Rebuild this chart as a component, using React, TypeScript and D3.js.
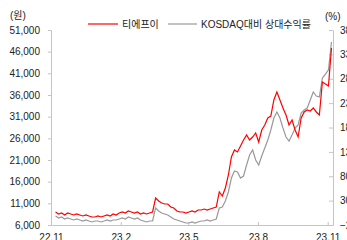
import React, { useEffect, useRef } from 'react';
import * as d3 from 'd3';

// daily series sampled every 4 days from 2022-11-07
const startDate = new Date(2022, 10, 7);
const stepDays = 4;

// 티에프이 종가 (원)
const priceValues = [
  9000, 8540, 8770, 8310, 8770, 8540, 8310, 8540, 8310, 8080,
  8310, 8080, 7850, 7850, 8080, 7850, 8080, 8310, 8080, 8540,
  8310, 8770, 9000, 8770, 9230, 9000, 8770, 9000, 8540, 8770,
  8540, 8770, 9000, 12230, 11540, 11080, 10850, 10850, 10150, 9920,
  9230, 9000, 9000, 8770, 9000, 9230, 9000, 9460, 9460, 9690,
  9460, 9690, 9920, 10150, 13620, 12690, 14540, 17540, 21690, 23310,
  22850, 24230, 25620, 26770, 25620, 26310, 27230, 25150, 27920, 29080,
  30690, 31150, 34850, 36690, 34850, 33000, 31380, 29080, 30230, 27920,
  26310, 30690, 32080, 32540, 32310, 33000, 32080, 31380, 39000, 38540,
  38080, 46850
];

// KOSDAQ 대비 상대수익률 (%)
const relativeValues = [
  -1.5, -5.6, -3.6, -7.7, -5.6, -7.7, -9.7, -7.7, -9.7, -11.8,
  -9.7, -11.8, -13.8, -11.8, -11.8, -13.8, -11.8, -9.7, -11.8, -9.7,
  -9.7, -7.7, -5.6, -7.7, -3.6, -5.6, -7.7, -5.6, -9.7, -11.8,
  -13.8, -11.8, -11.8, 14.9, 8.7, 4.6, 2.6, 0.5, -3.6, -7.7,
  -9.7, -11.8, -13.8, -15.9, -15.9, -13.8, -15.9, -13.8, -11.8, -11.8,
  -9.7, -11.8, -9.7, -7.7, 14.9, 16.9, 29.2, 47.7, 76.4, 90.8,
  88.7, 76.4, 80.5, 103.1, 123.6, 133.8, 113.3, 103.1, 121.5, 138,
  154.4, 174.9, 199.5, 211.8, 199.5, 179, 160.5, 152.3, 164.6, 179,
  185.1, 209.7, 215.9, 220, 236.4, 252.8, 244.6, 242.6, 281.5, 289.7,
  298, 355.4
];

const leftTicks = [6000, 11000, 16000, 21000, 26000, 31000, 36000, 41000, 46000, 51000];
const rightTicks = [-20, 30, 80, 130, 180, 230, 280, 330, 380];
const monthTicks = [
  new Date(2022, 10, 1),
  new Date(2023, 1, 1),
  new Date(2023, 4, 1),
  new Date(2023, 7, 1),
  new Date(2023, 10, 1)
];
const legendLabels = ['티에프이', 'KOSDAQ대비 상대수익률'];
const unitLabels = ['(원)', '(%)'];

const numFont = "'Liberation Sans Narrow', 'Arial Narrow', 'Liberation Sans', Arial, sans-serif";
const krFont = "'Liberation Sans', 'Noto Sans CJK KR', sans-serif";

export default function App() {
  const ref = useRef<SVGSVGElement>(null);

  useEffect(() => {
    const w = 347, h = 240;
    const left = 51, right = 333, top = 30, bottom = 225;
    const svg = d3.select(ref.current);
    svg.selectAll('*').remove();

    const x = d3.scaleTime()
      .domain([new Date(2022, 10, 1), new Date(2023, 10, 8)])
      .range([left, right]);
    const yLeft = d3.scaleLinear().domain([6000, 51000]).range([bottom, top]);
    const yRight = d3.scaleLinear().domain([-20, 380]).range([bottom, top]);

    const dates = priceValues.map((_, i) => d3.timeDay.offset(startDate, i * stepDays));

    const styleAxis = (g: any) => {
      g.select('.domain').attr('stroke', '#c4c4c4');
      g.selectAll('.tick line').attr('stroke', '#c4c4c4');
      g.selectAll('.tick text')
        .attr('fill', '#222')
        .style('font-family', numFont)
        .style('font-size', '10px');
    };

    svg.append('g')
      .attr('transform', `translate(${left},0)`)
      .call(d3.axisLeft(yLeft).tickValues(leftTicks).tickSize(3).tickPadding(8)
        .tickFormat(d3.format(',')))
      .call(styleAxis);

    svg.append('g')
      .attr('transform', `translate(${right},0)`)
      .call(d3.axisRight(yRight).tickValues(rightTicks).tickSizeInner(-4).tickSizeOuter(0)
        .tickPadding(7).tickFormat(d3.format('d')))
      .call(styleAxis);

    svg.append('g')
      .attr('transform', `translate(0,${bottom})`)
      .call(d3.axisBottom(x).tickValues(monthTicks).tickSizeInner(-3).tickSizeOuter(0)
        .tickPadding(9).tickFormat(d3.timeFormat('%y.%-m') as any))
      .call(styleAxis);

    const relLine = d3.line<number>()
      .x((_, i) => x(dates[i]))
      .y((d) => yRight(d));
    const priceLine = d3.line<number>()
      .x((_, i) => x(dates[i]))
      .y((d) => yLeft(d));

    svg.append('path')
      .attr('d', relLine(relativeValues))
      .attr('fill', 'none')
      .attr('stroke', '#999999')
      .attr('stroke-width', 1.2);

    svg.append('path')
      .attr('d', priceLine(priceValues))
      .attr('fill', 'none')
      .attr('stroke', '#ff0000')
      .attr('stroke-width', 1.2);

    // legend
    const legend = svg.append('g');
    const items = [
      { label: legendLabels[0], color: '#ff0000', x0: 88, x1: 118 },
      { label: legendLabels[1], color: '#999999', x0: 168, x1: 197 }
    ];
    items.forEach((it) => {
      legend.append('line')
        .attr('x1', it.x0).attr('x2', it.x1)
        .attr('y1', 24).attr('y2', 24)
        .attr('stroke', it.color).attr('stroke-width', 1.2);
      legend.append('text')
        .attr('x', it.x1 + 4).attr('y', 28)
        .attr('fill', '#222')
        .style('font-family', krFont)
        .style('font-size', '10px')
        .text(it.label);
    });

    svg.append('text')
      .attr('x', 10).attr('y', 19)
      .attr('fill', '#222')
      .style('font-family', krFont)
      .style('font-size', '10px')
      .text(unitLabels[0]);
    svg.append('text')
      .attr('x', 325).attr('y', 20)
      .attr('fill', '#222')
      .style('font-family', krFont)
      .style('font-size', '10px')
      .text(unitLabels[1]);

    svg.attr('width', w).attr('height', h);
  }, []);

  return (
    <div style={{ position: 'fixed', left: 0, top: 0 }}>
      <svg ref={ref} width={347} height={240} style={{ display: 'block', background: '#fff' }} />
    </div>
  );
}
